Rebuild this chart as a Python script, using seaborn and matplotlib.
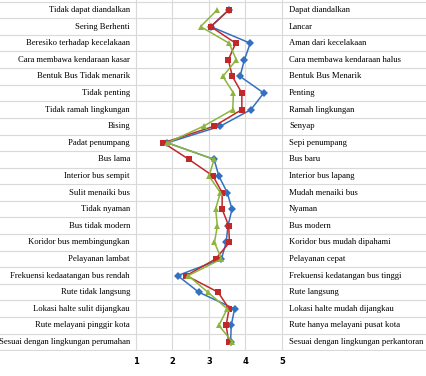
import pandas as pd
import matplotlib.pyplot as plt
import seaborn as sns

# %%
left_labels = [
    "Tidak dapat diandalkan", "Sering Berhenti", "Beresiko terhadap kecelakaan",
    "Cara membawa kendaraan kasar", "Bentuk Bus Tidak menarik", "Tidak penting",
    "Tidak ramah lingkungan", "Bising", "Padat penumpang", "Bus lama",
    "Interior bus sempit", "Sulit menaiki bus", "Tidak nyaman", "Bus tidak modern",
    "Koridor bus membingungkan", "Pelayanan lambat", "Frekuensi kedaatangan bus rendah",
    "Rute tidak langsung", "Lokasi halte sulit dijangkau", "Rute melayani pinggir kota",
    "Sesuai dengan lingkungan perumahan",
]
right_labels = [
    "Dapat diandalkan", "Lancar", "Aman dari kecelakaan", "Cara membawa kendaraan halus",
    "Bentuk Bus Menarik", "Penting", "Ramah lingkungan", "Senyap", "Sepi penumpang",
    "Bus baru", "Interior bus lapang", "Mudah menaiki bus", "Nyaman", "Bus modern",
    "Koridor bus mudah dipahami", "Pelayanan cepat", "Frekuensi kedatangan bus tinggi",
    "Rute langsung", "Lokasi halte mudah dijangkau", "Rute hanya melayani pusat kota",
    "Sesuai dengan lingkungan perkantoran",
]
blue = [3.54, 3.05, 4.13, 3.97, 3.85, 4.50, 4.15, 3.31, 1.86, 3.14, 3.27,
        3.50, 3.63, 3.52, 3.47, 3.34, 2.14, 2.72, 3.70, 3.61, 3.59]
red = [3.54, 3.05, 3.73, 3.53, 3.64, 3.90, 3.90, 3.14, 1.75, 2.45, 3.11,
       3.36, 3.36, 3.54, 3.56, 3.18, 2.38, 3.25, 3.55, 3.47, 3.54]
green = [3.22, 2.77, 3.55, 3.75, 3.38, 3.67, 3.65, 2.85, 1.86, 3.14, 3.00,
         3.31, 3.18, 3.23, 3.15, 3.34, 2.43, 2.97, 3.50, 3.27, 3.64]
ticks = [1, 2, 3, 4, 5]

n = len(left_labels)
rows = list(range(n))
df = pd.concat([
    pd.DataFrame({"row": rows, "nilai": v, "seri": s})
    for s, v in [("A", blue), ("B", red), ("C", green)]
])

plt.rcParams["font.family"] = ["Liberation Serif", "DejaVu Serif"]
fig = plt.figure(figsize=(4.27, 3.76), dpi=100)
ax = fig.add_axes([0, 25 / 376, 1, 351 / 376])

grid = "#d9d9d9"
for b in range(n + 1):
    ax.axhline(b - 0.5, color=grid, lw=0.8, zorder=0)
for t in ticks:
    ax.axvline(t, color=grid, lw=0.8, zorder=0)

sns.lineplot(
    data=df, x="nilai", y="row", hue="seri", style="seri", orient="y", sort=False,
    palette={"A": "#3470c0", "B": "#c0282a", "C": "#8db43c"},
    markers={"A": "D", "B": "s", "C": "^"}, dashes=False,
    lw=1.1, markersize=4, markeredgewidth=0, legend=False, ax=ax,
)

px = 36.5  # pixels per unit
ax.set_xlim(1 - 136 / px, 5 + (427 - 282) / px)
ax.set_ylim(20 + 9 / 16.6, -10 / 16.6)

for i in rows:
    ax.text(1 - 6 / px, i, left_labels[i], ha="right", va="center", fontsize=6.2)
    ax.text(5 + 7 / px, i, right_labels[i], ha="left", va="center", fontsize=6.2)

ax.set_xticks(ticks)
ax.set_xticklabels([str(t) for t in ticks], fontsize=6, fontweight="bold",
                   family=["DejaVu Sans"])
ax.tick_params(axis="x", length=0, pad=4)
ax.set_yticks([])
ax.set_xlabel("")
ax.set_ylabel("")
for s in ax.spines.values():
    s.set_visible(False)

plt.savefig("out.png", dpi=100)
